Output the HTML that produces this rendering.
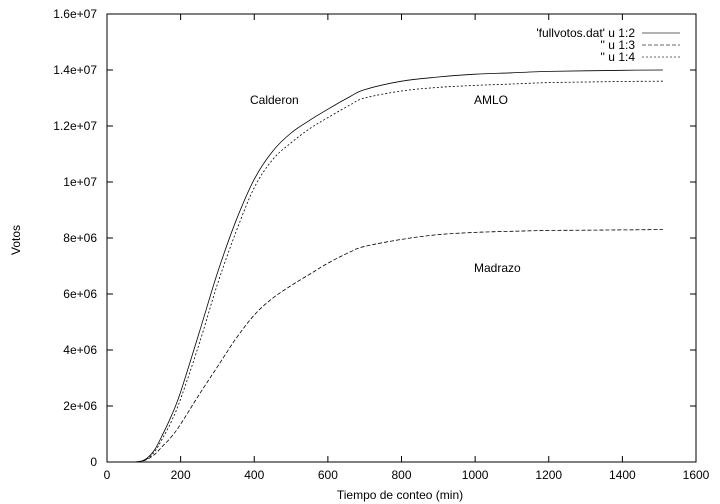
<!DOCTYPE html>
<html><head><meta charset="utf-8"><style>
body{margin:0;background:#fff;}
svg{display:block;font-family:"Liberation Sans",sans-serif;font-size:12px;}
</style></head><body>
<svg id="chart" width="720" height="504"></svg>
<script>
const xs=[0,60,90,110,130,150,175,200,250,300,350,400,450,500,550,600,660,700,800,900,1000,1100,1200,1300,1400,1510];
const calderon=[0,0,0.02,0.15,0.45,0.95,1.65,2.5,4.6,6.75,8.6,10.1,11.1,11.75,12.2,12.6,13.05,13.3,13.6,13.75,13.85,13.9,13.95,13.97,13.99,14.0];
const amlo=[0,0,0.02,0.12,0.38,0.82,1.45,2.25,4.2,6.35,8.2,9.8,10.8,11.4,11.9,12.3,12.75,13.0,13.25,13.38,13.45,13.5,13.55,13.57,13.59,13.6];
const madrazo=[0,0,0.02,0.1,0.28,0.55,0.9,1.35,2.4,3.4,4.4,5.25,5.85,6.3,6.7,7.1,7.5,7.7,7.95,8.12,8.2,8.24,8.27,8.28,8.29,8.3];
const xTicks=[0,200,400,600,800,1000,1200,1400,1600];
const yTicks=[0,2,4,6,8,10,12,14,16];
const yTickLabels=["0","2e+06","4e+06","6e+06","8e+06","1e+07","1.2e+07","1.4e+07","1.6e+07"];
const X0=107,X1=696,Y0=462,Y1=14;
const sx=v=>X0+(v-0)/1600*(X1-X0);
const sy=v=>Y0-(v/16)*(Y0-Y1);
const svg=document.getElementById('chart');
const NS="http://www.w3.org/2000/svg";
function mk(t,a,txt){const e=document.createElementNS(NS,t);for(const k in a)e.setAttribute(k,a[k]);if(txt!=null)e.textContent=txt;svg.appendChild(e);return e;}
let e=mk('rect',{x:X0,y:Y1,width:X1-X0,height:Y0-Y1,fill:'none',stroke:'#000','stroke-width':1});


xTicks.forEach(v=>{const x=sx(v);
 let t=mk('path',{d:`M${x},${Y0}v-6M${x},${Y1}v6`,stroke:'#000'});
 
 
 let l=mk('text',{x:x,y:Y0+17,'text-anchor':'middle'},String(v));
 
 
});
yTicks.forEach((v,i)=>{const y=sy(v);
 let t=mk('path',{d:`M${X0},${y}h6M${X1},${y}h-6`,stroke:'#000'});
 
 
 let l=mk('text',{x:X0-10,y:y+4,'text-anchor':'end'},yTickLabels[i]);
 
 
});
e=mk('text',{x:400,y:499,'text-anchor':'middle'},'Tiempo de conteo (min)');


e=mk('text',{x:20,y:240,'text-anchor':'middle',transform:'rotate(-90 20 240)'},'Votos');


function line(arr,dash,name){
 const P=arr.map((v,i)=>[sx(xs[i]),sy(v)]);
 let d='M'+P[0][0].toFixed(1)+','+P[0][1].toFixed(1);
 for(let i=0;i<P.length-1;i++){
  const p0=P[Math.max(0,i-1)],p1=P[i],p2=P[i+1],p3=P[Math.min(P.length-1,i+2)];
  const c1=[p1[0]+(p2[0]-p0[0])/6,p1[1]+(p2[1]-p0[1])/6];
  const c2=[p2[0]-(p3[0]-p1[0])/6,p2[1]-(p3[1]-p1[1])/6];
  d+='C'+c1.map(n=>n.toFixed(1)).join(',')+' '+c2.map(n=>n.toFixed(1)).join(',')+' '+p2[0].toFixed(1)+','+p2[1].toFixed(1);
 }
 const p=mk('path',{d:d,fill:'none',stroke:'#000','stroke-width':0.8,'stroke-dasharray':dash});
 
 
}
line(calderon,'none','calderon-line');
line(madrazo,'4,2','madrazo-line');
line(amlo,'2,2','amlo-line');
[['Calderon',250,104],['AMLO',474,104],['Madrazo',474,272]].forEach(a=>{
 const t=mk('text',{x:a[1],y:a[2]},a[0]);
 
 
});
const leg=[["'fullvotos.dat' u 1:2",'none'],["'' u 1:3",'4,2'],["'' u 1:4",'2,2']];
leg.forEach((l,i)=>{const y=33+i*12;
 const t=mk('text',{x:635,y:y+4,'text-anchor':'end'},l[0]);
 
 
 const p=mk('path',{d:`M642,${y}h38`,stroke:'#666','stroke-dasharray':l[1]});
 
 
});
</script>
</body></html>
